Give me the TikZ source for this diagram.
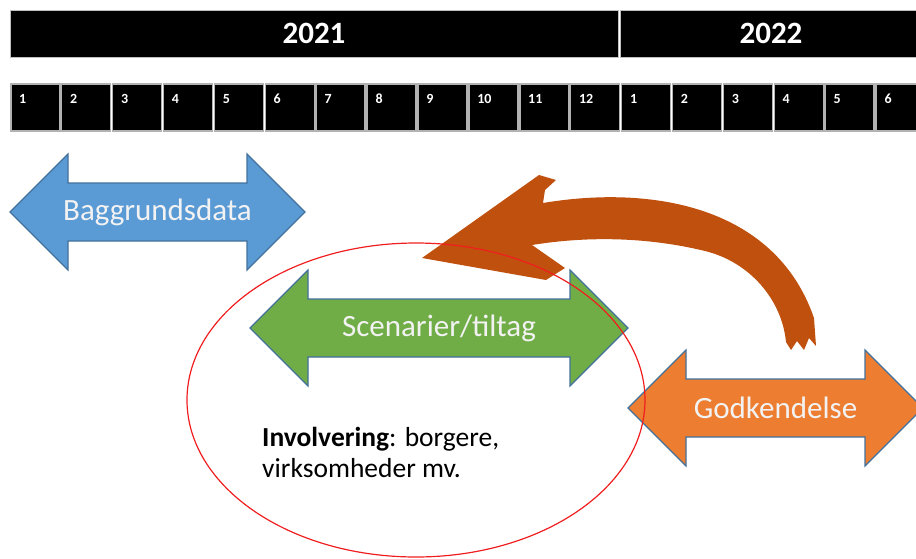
\documentclass[tikz,border=0pt]{standalone}
\usepackage{fontspec}
\setmainfont{Carlito}

\definecolor{phaseblue}{RGB}{91,155,213}
\definecolor{phasegreen}{RGB}{112,173,71}
\definecolor{phaseorange}{RGB}{237,125,49}
\definecolor{phaseedge}{RGB}{65,113,156}
\definecolor{brushbrown}{RGB}{192,80,14}
\definecolor{ringred}{RGB}{240,30,30}

\tikzset{
  yearbox/.style={fill=black, draw=white!75!black, line width=1pt, inner sep=0pt,
    minimum height=47pt, text=white, font=\fontsize{31}{33}\selectfont\bfseries},
  monthbox/.style={fill=black, draw=white!70!black, line width=1.5pt, inner sep=0pt,
    minimum width=49pt, minimum height=47pt, anchor=north west},
  monthlabel/.style={text=white, inner sep=0pt, anchor=north west,
    font=\fontsize{14}{14}\selectfont\bfseries},
  phase/.style={draw=phaseedge, line width=1.2pt, line join=miter},
  phaselabel/.style={text=white!95!black, font=\fontsize{31}{33}\selectfont},
  involve/.style={align=left, inner sep=0pt, anchor=west, font=\fontsize{27.5}{31}\selectfont},
}

% name, colour, left tip, right tip, centre line, text
\newcommand{\phasearrow}[6]{%
  \draw[phase, fill=#2] (#3,#5) -- (#3+58,#5-58) -- (#3+58,#5-29) -- (#4-58,#5-29)
    -- (#4-58,#5-58) -- (#4,#5) -- (#4-58,#5+58) -- (#4-58,#5+29)
    -- (#3+58,#5+29) -- (#3+58,#5+58) -- cycle;
  \node[phaselabel] (#1) at ({(#3+#4)/2},#5) {#6};
}

\begin{document}
\begin{tikzpicture}[x=1pt, y=-1pt]
  \useasboundingbox (0,0) rectangle (916,558);

  % years
  \node[yearbox, minimum width=608pt] (y2021) at (314,33.5) {2021};
  \node[yearbox, minimum width=302pt] (y2022) at (771,33.5) {2022};

  % months
  \foreach \m in {1,...,12} {
    \node[monthbox] (m21-\m) at ({10+50.9*(\m-1)},83) {};
    \node[monthlabel] at ([xshift=9pt,yshift=-11pt]m21-\m.north west) {\m};
  }
  \foreach \m in {1,...,6} {
    \node[monthbox] (m22-\m) at ({10+50.9*(\m+11)},83) {};
    \node[monthlabel] at ([xshift=9pt,yshift=-11pt]m22-\m.north west) {\m};
  }

  % phases
  \phasearrow{baggrund}{phaseblue}{10}{305}{212}{Baggrundsdata}
  \phasearrow{scenarier}{phasegreen}{250}{628}{328}{Scenarier/tiltag}
  \phasearrow{godkend}{phaseorange}{628}{923}{408}{Godkendelse}

  % feedback brush arrow
  \fill[brushbrown] (422,258) -- (539,175) -- (556,180) -- (545,190) -- (543,203)
    .. controls (650,185) and (775,205) .. (814,318) -- (816,346) -- (809,338)
    -- (804,350) -- (797,341) -- (791,350) -- (786,342)
    .. controls (782,300) and (750,262) .. (705,251)
    .. controls (660,240) and (600,234) .. (532,245)
    -- (565,268) -- (546,280) -- cycle;

  \node[involve] (involvering) at (262,452) {\textbf{Involvering}: borgere,\\virksomheder mv.};

  \draw[ringred, line width=1.2pt] (416,400) ellipse [x radius=229, y radius=157];
\end{tikzpicture}
\end{document}
